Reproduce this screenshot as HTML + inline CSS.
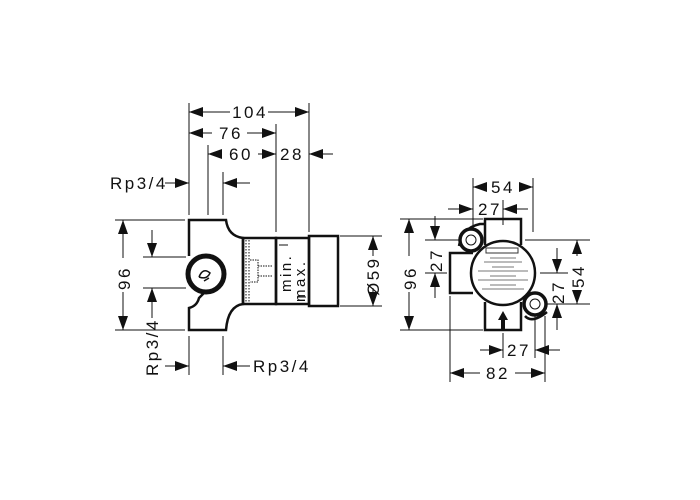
<!DOCTYPE html>
<html><head><style>html,body{margin:0;padding:0;background:#fff}svg{display:block}text{font-family:"Liberation Sans",sans-serif;font-size:17px;fill:#111;letter-spacing:2.5px}</style></head><body>
<svg width="700" height="500" viewBox="0 0 700 500" xmlns="http://www.w3.org/2000/svg">
<defs>
<marker id="a" markerWidth="14" markerHeight="10" refX="14" refY="5" orient="auto" markerUnits="userSpaceOnUse"><path d="M0,0 L14,5 L0,10 z" fill="#111"/></marker>
</defs>
<g stroke="#111" stroke-width="1" fill="none">
<line x1="189" y1="103" x2="189" y2="215"/>
<line x1="208" y1="145" x2="208" y2="215"/>
<line x1="223" y1="172" x2="223" y2="215"/>
<line x1="276" y1="124" x2="276" y2="232"/>
<line x1="309" y1="103" x2="309" y2="232"/>
<line x1="230" y1="112" x2="189" y2="112" marker-end="url(#a)"/>
<line x1="268" y1="112" x2="309" y2="112" marker-end="url(#a)"/>
<line x1="212" y1="133" x2="189" y2="133" marker-end="url(#a)"/>
<line x1="247" y1="133" x2="276" y2="133" marker-end="url(#a)"/>
<line x1="222" y1="154" x2="208" y2="154" marker-end="url(#a)"/>
<line x1="258" y1="154" x2="276" y2="154" marker-end="url(#a)"/>
<line x1="333" y1="154" x2="309" y2="154" marker-end="url(#a)"/>
<line x1="165" y1="183" x2="189" y2="183" marker-end="url(#a)"/>
<line x1="250" y1="183" x2="223" y2="183" marker-end="url(#a)"/>
<line x1="115" y1="220" x2="185" y2="220"/><line x1="115" y1="330" x2="185" y2="330"/>
<line x1="123" y1="258" x2="123" y2="220" marker-end="url(#a)"/>
<line x1="123" y1="292" x2="123" y2="330" marker-end="url(#a)"/>
<line x1="143" y1="257" x2="186" y2="257"/><line x1="143" y1="288" x2="186" y2="288"/>
<line x1="152" y1="230" x2="152" y2="257" marker-end="url(#a)"/>
<line x1="152" y1="318" x2="152" y2="288" marker-end="url(#a)"/>
<line x1="189" y1="336" x2="189" y2="375"/><line x1="223" y1="336" x2="223" y2="375"/>
<line x1="165" y1="366" x2="189" y2="366" marker-end="url(#a)"/>
<line x1="250" y1="366" x2="223" y2="366" marker-end="url(#a)"/>
<line x1="340" y1="236" x2="382" y2="236"/><line x1="340" y1="306" x2="382" y2="306"/>
<line x1="373" y1="256" x2="373" y2="236" marker-end="url(#a)"/>
<line x1="373" y1="288" x2="373" y2="306" marker-end="url(#a)"/>
</g>
<g stroke="#111" stroke-width="2.5" fill="none">
<path d="M189,256 L189,220 L226,220 Q228,236 243,238 L243,304 Q228,306 226,330 L189,330 L189,308 Q197,306 199,298 L205,292"/>
<circle cx="206" cy="274" r="18" stroke-width="5"/>
<rect x="243" y="238" width="33" height="66"/>
<rect x="276" y="238" width="33" height="66"/>
<rect x="309" y="236" width="29" height="70"/>
</g>
<g stroke="#111" stroke-width="1.5" fill="none">
<path d="M199,277 q4,-10 11,-4 q-3,7 -11,4 M204,281 l5,-3" />
</g>
<g stroke="#111" stroke-width="1" fill="none">
<line x1="246" y1="240" x2="246" y2="302" stroke-dasharray="1.5,1.5"/>
<line x1="249" y1="240" x2="249" y2="302" stroke-dasharray="1.5,1.5"/>
<path d="M250,260 h8 v22 h-8 M258,266 h14 M258,276 h14" stroke-dasharray="1.5,1"/>
<line x1="279" y1="245" x2="288" y2="245"/><line x1="297" y1="297" x2="306" y2="297"/>
</g>
<text transform="translate(291,292) rotate(-90)" style="font-size:15px">min.</text>
<text transform="translate(305,302) rotate(-90)" style="font-size:15px">max.</text>
<text x="250" y="118" text-anchor="middle">104</text>
<text x="231" y="139" text-anchor="middle">76</text>
<text x="241" y="160" text-anchor="middle">60</text>
<text x="292" y="160" text-anchor="middle">28</text>
<text x="110" y="189">Rp3/4</text>
<text x="253" y="372">Rp3/4</text>
<text transform="translate(158,376) rotate(-90)">Rp3/4</text>
<text transform="translate(130,290) rotate(-90)">96</text>
<text transform="translate(379,296) rotate(-90)">Ø59</text>
<g stroke="#111" stroke-width="1" fill="none">
<line x1="473" y1="178" x2="473" y2="232"/><line x1="533" y1="178" x2="533" y2="232"/>
<line x1="503" y1="200" x2="503" y2="225"/>
<line x1="487" y1="187" x2="473" y2="187" marker-end="url(#a)"/>
<line x1="519" y1="187" x2="533" y2="187" marker-end="url(#a)"/>
<line x1="448" y1="209" x2="473" y2="209" marker-end="url(#a)"/>
<line x1="528" y1="209" x2="503" y2="209" marker-end="url(#a)"/>
<line x1="400" y1="219" x2="483" y2="219"/><line x1="400" y1="330" x2="483" y2="330"/>
<line x1="409" y1="256" x2="409" y2="219" marker-end="url(#a)"/>
<line x1="409" y1="292" x2="409" y2="330" marker-end="url(#a)"/>
<line x1="425" y1="240" x2="462" y2="240"/><line x1="425" y1="273" x2="447" y2="273"/>
<line x1="435" y1="216" x2="435" y2="240" marker-end="url(#a)"/>
<line x1="435" y1="298" x2="435" y2="273" marker-end="url(#a)"/>
<line x1="525" y1="240" x2="590" y2="240"/><line x1="540" y1="273" x2="568" y2="273"/><line x1="546" y1="304" x2="590" y2="304"/>
<line x1="577" y1="256" x2="577" y2="240" marker-end="url(#a)"/>
<line x1="577" y1="290" x2="577" y2="304" marker-end="url(#a)"/>
<line x1="557" y1="248" x2="557" y2="273" marker-end="url(#a)"/>
<line x1="557" y1="330" x2="557" y2="304" marker-end="url(#a)"/>
<line x1="450" y1="296" x2="450" y2="382"/><line x1="545" y1="316" x2="545" y2="382"/>
<line x1="503" y1="333" x2="503" y2="358"/><line x1="535" y1="316" x2="535" y2="358"/>
<line x1="480" y1="350" x2="503" y2="350" marker-end="url(#a)"/>
<line x1="560" y1="350" x2="535" y2="350" marker-end="url(#a)"/>
<line x1="480" y1="373" x2="450" y2="373" marker-end="url(#a)"/>
<line x1="515" y1="373" x2="545" y2="373" marker-end="url(#a)"/>
</g>
<g stroke="#111" stroke-width="2.5" fill="none">
<path d="M485,245 L485,219 L521,219 L521,245"/>
<path d="M485,302 L485,330 L521,330 L521,302"/>
<path d="M473,253 L450,253 L450,293 L473,293"/>
<path d="M459,246 Q462,228 480,224 L485,224"/>
<path d="M525,316 Q532,324 547,312"/>
</g>
<circle cx="503" cy="273" r="32" fill="#fff" stroke="#111" stroke-width="2.5"/>
<g fill="#fff" stroke="#111" stroke-width="3.5">
<circle cx="471" cy="240" r="11"/><circle cx="535" cy="304" r="11"/>
</g>
<g stroke="#111" stroke-width="1" fill="none"><circle cx="471" cy="240" r="5"/><circle cx="535" cy="304" r="5"/></g>
<rect x="486" y="248" width="32" height="5" fill="none" stroke="#333" stroke-width="1"/>
<g stroke="#777" stroke-width="1">
<line x1="490" y1="258" x2="516" y2="258"/><line x1="484" y1="262" x2="522" y2="262"/><line x1="492" y1="267" x2="514" y2="267"/><line x1="478" y1="271" x2="528" y2="271"/><line x1="490" y1="276" x2="516" y2="276"/><line x1="478" y1="280" x2="528" y2="280"/><line x1="490" y1="285" x2="516" y2="285"/><line x1="482" y1="289" x2="524" y2="289"/>
</g>
<path d="M503,311 l-5,9 h3 v10 h4 v-10 h3 z" fill="#111"/>
<text x="503" y="193" text-anchor="middle">54</text>
<text x="490" y="215" text-anchor="middle">27</text>
<text x="519" y="356" text-anchor="middle">27</text>
<text x="498" y="379" text-anchor="middle">82</text>
<text transform="translate(416,290) rotate(-90)">96</text>
<text transform="translate(442,272) rotate(-90)">27</text>
<text transform="translate(564,304) rotate(-90)">27</text>
<text transform="translate(584,288) rotate(-90)">54</text>
</svg>
</body></html>
